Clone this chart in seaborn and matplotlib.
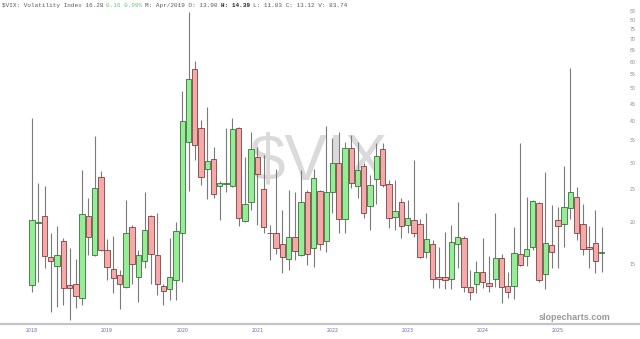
import numpy as np
import pandas as pd
import matplotlib
matplotlib.use("Agg")
import matplotlib.pyplot as plt
from matplotlib.ticker import NullLocator
import seaborn as sns

# Monthly VIX candles (Feb 2018 .. Sep 2025)
opens = [13.0, 19.8, 20.9, 15.7, 14.8, 17.6, 13.0, 13.05, 11.9, 20.8,
         15.9, 27.3, 16.5, 14.5, 13.90, 12.8, 19.3, 13.75, 15.35, 20.8,
         15.9, 12.9, 12.6, 13.4, 18.5, 34.7, 57.0, 38.0, 28.8, 30.7,
         25.6, 26.0, 25.6, 38.2, 20.1, 22.9, 31.3, 25.0, 18.6, 18.5,
         17.2, 15.5, 18.1, 15.96, 24.6, 16.7, 24.8, 17.5, 24.6, 30.0,
         20.4, 33.3, 25.6, 29.4, 22.3, 26.8, 32.9, 25.9, 20.7, 23.0,
         19.6, 20.3, 19.7, 16.3, 17.2, 13.75, 13.7, 13.5, 17.2, 17.9,
         12.8, 13.1, 14.2, 13.2, 13.5, 15.6, 12.9, 12.9, 16.1, 15.8,
         16.8, 22.8, 14.0, 17.1, 20.3, 19.7, 22.0, 23.8, 19.7, 16.9,
         17.3, 16.2]
highs = [40.7, 26.1, 25.6, 18.5, 19.5, 17.9, 16.7, 15.5, 28.6, 23.6,
         36.0, 28.4, 17.8, 18.2, 14.39, 23.3, 19.6, 16.5, 24.6, 21.0,
         21.3, 13.1, 17.9, 19.95, 49.1, 84.5, 60.2, 40.2, 44.1, 33.5,
         26.4, 38.0, 40.9, 38.4, 31.3, 37.1, 33.5, 31.6, 19.6, 28.8,
         21.7, 24.9, 24.6, 28.6, 24.9, 28.8, 24.9, 38.5, 35.5, 37.1,
         34.7, 36.3, 34.7, 29.9, 27.6, 34.3, 34.3, 26.7, 26.7, 23.5,
         23.3, 30.6, 20.4, 21.2, 17.7, 16.9, 18.7, 19.6, 23.0, 18.2,
         14.4, 15.35, 17.9, 15.8, 21.2, 16.1, 14.2, 19.3, 34.4, 23.7,
         23.3, 23.0, 28.2, 22.4, 22.2, 29.4, 57.6, 25.5, 22.6, 19.4,
         21.7, 19.3]
lows = [12.4, 13.3, 14.6, 10.8, 11.2, 11.3, 10.2, 11.1, 11.3, 16.0,
        15.8, 16.4, 13.4, 12.3, 11.03, 12.7, 13.1, 11.6, 14.6, 13.1,
        12.1, 11.3, 11.7, 11.7, 13.3, 24.7, 30.6, 25.8, 23.4, 23.5,
        20.3, 24.6, 25.5, 19.5, 19.95, 21.7, 19.6, 18.5, 15.4, 16.1,
        14.1, 14.4, 15.4, 15.8, 14.9, 14.7, 16.5, 16.3, 21.2, 18.5,
        18.5, 25.3, 23.5, 20.5, 18.9, 22.6, 25.5, 19.15, 18.9, 17.9,
        18.5, 18.1, 15.6, 15.6, 12.7, 12.7, 12.6, 12.6, 14.6, 12.4,
        11.7, 12.3, 12.7, 12.4, 12.8, 11.5, 11.85, 11.8, 14.8, 14.8,
        16.5, 13.3, 12.6, 14.6, 14.6, 16.9, 20.4, 17.7, 15.96, 14.6,
        14.1, 14.2]
closes = [20.3, 20.0, 15.8, 15.35, 16.0, 12.75, 12.75, 12.05, 21.1, 18.0,
          25.3, 16.5, 14.7, 13.6, 13.12, 18.6, 15.0, 16.0, 18.9, 16.1,
          13.1, 12.5, 13.7, 18.8, 39.9, 53.1, 34.0, 27.3, 30.3, 24.3,
          26.2, 26.2, 37.7, 20.5, 22.6, 32.9, 27.8, 19.3, 18.5, 16.7,
          15.7, 18.1, 16.4, 23.0, 16.1, 27.0, 17.2, 24.6, 30.0, 20.4,
          33.3, 26.1, 28.6, 21.2, 25.8, 31.5, 25.7, 20.5, 21.6, 19.4,
          20.6, 18.6, 15.7, 17.8, 13.5, 13.5, 13.4, 17.4, 18.0, 12.8,
          12.35, 14.2, 13.3, 12.9, 15.6, 12.8, 12.35, 16.2, 14.9, 16.6,
          23.1, 13.4, 17.3, 16.3, 19.5, 22.1, 24.5, 18.5, 16.6, 16.6,
          15.3, 16.28]
year_labels = ["2018", "2019", "2020", "2021", "2022", "2023", "2024", "2025"]
price_ticks = [15, 20, 25, 30, 35, 40, 45, 50, 55, 60, 65, 70, 75, 80, 85]

sns.set_theme(style="white")
plt.rcParams['font.family'] = ['DejaVu Sans']

df = pd.DataFrame({"open": opens, "high": highs, "low": lows, "close": closes})
df["x"] = np.arange(len(df))
df["up"] = df["close"] >= df["open"]
df["bottom"] = df[["open", "close"]].min(axis=1)
df["height"] = (df["open"] - df["close"]).abs()

W, H = 640, 339
fig = plt.figure(figsize=(W / 100, H / 100), dpi=100)
ax_bottom_px = 324
ax = fig.add_axes([0, (H - ax_bottom_px) / H, 1, ax_bottom_px / H])
ax.set_facecolor("white")
ax.set_yscale("log")

step = 6.26
first_px = 32
ax.set_xlim(-first_px / step, (W - first_px) / step)
ax.set_ylim(9.945, 91.5)

# wicks
ax.vlines(df["x"], df["low"], df["high"], color="#7a7a7a", lw=0.8, zorder=2)
# bodies
up = df[df["up"]]
dn = df[~df["up"]]
ax.bar(up["x"], up["height"], bottom=up["bottom"], width=0.86,
       color="#95ee95", edgecolor="#3d6f3d", linewidth=0.6, zorder=3)
ax.bar(dn["x"], dn["height"], bottom=dn["bottom"], width=0.86,
       color="#f6a9a9", edgecolor="#7f3f3f", linewidth=0.6, zorder=3)

# axes styling
for s in ["top", "left", "right"]:
    ax.spines[s].set_visible(False)
ax.spines["bottom"].set_color("#c4c4c4")
ax.spines["bottom"].set_linewidth(1.6)

ax.yaxis.tick_right()
ax.set_yticks(price_ticks)
ax.set_yticklabels([str(v) for v in price_ticks])
ax.yaxis.set_minor_locator(NullLocator())
ax.tick_params(axis="y", length=0, pad=-7.5, labelsize=3.4, labelcolor="#8a8a8a")

ax.set_xticks(np.arange(0, len(df), 12))
ax.set_xticklabels(year_labels)
ax.tick_params(axis="x", length=0, pad=3.2, labelsize=3.4, labelcolor="#6a6aae")
ax.grid(False)

# watermark
ax.text(319 / W, 1 - 162 / H, "$VIX", transform=fig.transFigure,
        fontsize=46, family="Liberation Sans", color="#dadada",
        ha="center", va="center", zorder=1)

# header
char_px = 4.3 * 0.6 * 100 / 72
hy = 1 - 5.5 / H
pieces = [
    (0, "$VIX: Volatility Index 16.28", "#5a5a5a", "normal"),
    (29, "0.16 0.99%", "#6cc26c", "normal"),
    (40, "M: Apr/2019 O: 13.90", "#5a5a5a", "normal"),
    (61, "H: 14.39", "#222222", "bold"),
    (70, "L: 11.03 C: 13.12 V: 83.74", "#5a5a5a", "normal"),
]
for col, txt, c, w in pieces:
    fig.text((2 + col * char_px) / W, hy, txt, fontsize=4.3,
             family="Liberation Mono", color=c, weight=w, ha="left", va="center")

fig.text(575 / W, 1 - 318 / H, "slopecharts.com", fontsize=6.5,
         family="Liberation Sans", weight="bold", color="#9a9a9a",
         ha="center", va="center")

fig.savefig("out.png", dpi=100, facecolor="white")
